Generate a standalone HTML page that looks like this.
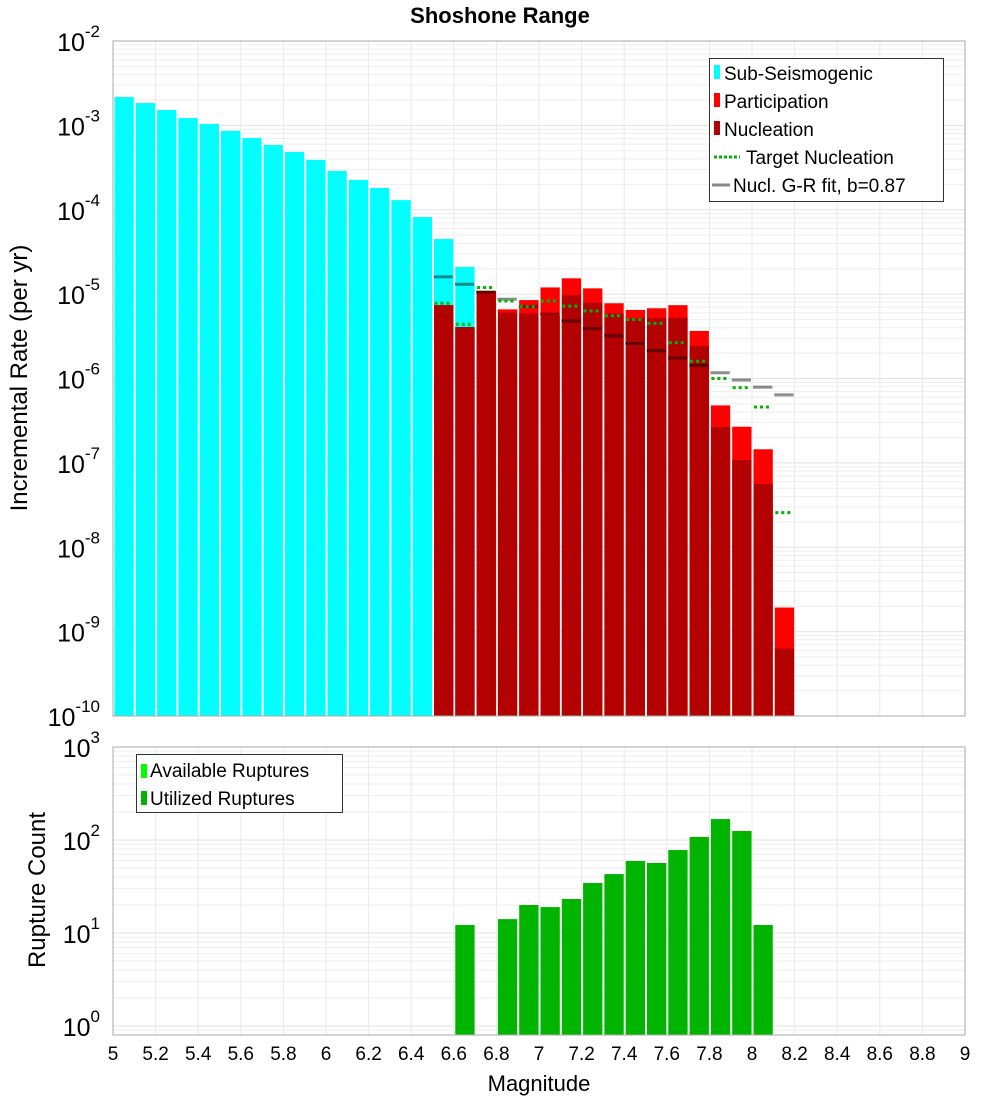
<!DOCTYPE html>
<html><head><meta charset="utf-8"><style>
body{margin:0;background:#fff;}
svg text{font-family:"Liberation Sans","DejaVu Sans",sans-serif;}
</style></head><body>
<svg id="chart" width="1000" height="1100" xmlns="http://www.w3.org/2000/svg">
<text x="500" y="23" text-anchor="middle" font-size="22" font-weight="bold">Shoshone Range</text>
<g id="topPlot"></g>
<g id="botPlot"></g>
</svg>
<script>
const magBins=[5.0,5.1,5.2,5.3,5.4,5.5,5.6,5.7,5.8,5.9,6.0,6.1,6.2,6.3,6.4,6.5,6.6];
const subSeis=[2.17e-3,1.84e-3,1.52e-3,1.22e-3,1.04e-3,8.6e-4,7.1e-4,5.85e-4,4.83e-4,3.9e-4,2.88e-4,2.25e-4,1.81e-4,1.3e-4,8.2e-5,4.5e-5,2.1e-5];
const supraBins=[6.5,6.6,6.7,6.8,6.9,7.0,7.1,7.2,7.3,7.4,7.5,7.6,7.7,7.8,7.9,8.0,8.1];
const participation=[7.4e-6,4.07e-6,1.09e-5,6.6e-6,8.5e-6,1.2e-5,1.54e-5,1.17e-5,7.8e-6,6.5e-6,6.8e-6,7.4e-6,3.66e-6,4.8e-7,2.68e-7,1.45e-7,1.93e-9];
const nucleation=[7.4e-6,4.07e-6,1.09e-5,6.03e-6,5.93e-6,5.5e-6,9.7e-6,7.9e-6,5.9e-6,5.2e-6,5.2e-6,5.25e-6,2.43e-6,2.66e-7,1.08e-7,5.6e-8,6.3e-10];
const targetNucl=[7.8e-6,4.4e-6,1.2e-5,8.3e-6,7.1e-6,8.3e-6,7.2e-6,6.3e-6,5.55e-6,5.0e-6,4.5e-6,2.65e-6,1.6e-6,1.0e-6,7.8e-7,4.6e-7,2.57e-8];
const grFit=[1.6e-5,1.31e-5,1.06e-5,8.7e-6,7.1e-6,5.8e-6,4.8e-6,3.9e-6,3.2e-6,2.6e-6,2.14e-6,1.75e-6,1.43e-6,1.17e-6,9.6e-7,7.9e-7,6.4e-7];
const countBins=[6.6,6.8,6.9,7.0,7.1,7.2,7.3,7.4,7.5,7.6,7.7,7.8,7.9,8.0];
const utilized=[12.2,14.1,20,19,23.2,34.5,43,59.5,56.6,78,108,168,125,12.2];
const xTicks=[5,5.2,5.4,5.6,5.8,6,6.2,6.4,6.6,6.8,7,7.2,7.4,7.6,7.8,8,8.2,8.4,8.6,8.8,9];
const topExps=[-2,-3,-4,-5,-6,-7,-8,-9,-10];
const botExps=[0,1,2,3];

const NS="http://www.w3.org/2000/svg";
const X0=113,X1=965,T0=41,T1=716,B0=747,B1=1035;
const xs=m=>X0+(m-5)*213;
const yT=v=>T0+(-2-Math.log10(v))*84.375;
const yB=v=>1026-93*Math.log10(v);
function mk(parent,tag,attrs){const e=document.createElementNS(NS,tag);for(const k in attrs)e.setAttribute(k,attrs[k]);parent.appendChild(e);return e;}
const gTop=document.getElementById('topPlot'),gBot=document.getElementById('botPlot');

function frame(g,y0,y1,yf,exps,name){
  mk(g,'rect',{x:X0,y:y0,width:X1-X0,height:y1-y0,fill:'#fff',stroke:'none'});
  for(let e=Math.min(...exps)-1;e<=Math.max(...exps);e++){
    for(let k=1;k<10;k++){const v=k*Math.pow(10,e);const y=yf(v);if(y<y0||y>y1)continue;
      const l=mk(g,'line',{x1:X0,x2:X1,y1:y,y2:y,stroke:k==1?'#e2e2e2':'#eeeeee','stroke-width':1});
      
      }
  }
  xTicks.forEach(t=>{const x=xs(t);const l=mk(g,'line',{x1:x,x2:x,y1:y0,y2:y1,stroke:'#eaeaea','stroke-width':1});
    
    });
}
function border(g,y0,y1){mk(g,'rect',{x:X0,y:y0,width:X1-X0,height:y1-y0,fill:'none',stroke:'#aaa','stroke-width':1});}
function yLabels(g,exps,yf,name){
  exps.forEach(e=>{const y=yf(Math.pow(10,e));
    const t=mk(g,'text',{x:100,y:y+10,'text-anchor':'end','font-size':25});
    
    
    const a=document.createElementNS(NS,'tspan');a.textContent='10';t.appendChild(a);
    const b=document.createElementNS(NS,'tspan');b.setAttribute('dy','-14');b.setAttribute('font-size','17');b.textContent=String(e);t.appendChild(b);
  });
}

frame(gTop,T0,T1,yT,topExps,'top');
magBins.forEach((m,i)=>{const y=yT(subSeis[i]);const r=mk(gTop,'rect',{x:xs(m)+1.5,y:y,width:213*0.1-2,height:T1-y,fill:'#00ffff'});
  
  });
supraBins.forEach((m,i)=>{const y=yT(participation[i]);const r=mk(gTop,'rect',{x:xs(m)+1.5,y:y,width:213*0.1-2,height:T1-y,fill:'#ff0000'});
  
  });
supraBins.forEach((m,i)=>{const y=yT(nucleation[i]);const r=mk(gTop,'rect',{x:xs(m)+1.5,y:y,width:213*0.1-2,height:T1-y,fill:'#b30000'});
  
  });
supraBins.forEach((m,i)=>{const y=yT(grFit[i]);const l=mk(gTop,'line',{x1:xs(m)+1,x2:xs(m+0.1)-1,y1:y,y2:y,stroke:'rgba(0,0,0,0.45)','stroke-width':3});
  
  });
supraBins.forEach((m,i)=>{const y=yT(targetNucl[i]);const l=mk(gTop,'line',{x1:xs(m)+2,x2:xs(m+0.1)-2,y1:y,y2:y,stroke:'#00b400','stroke-width':3,'stroke-dasharray':'3,3'});
  
  });
border(gTop,T0,T1);
yLabels(gTop,topExps,yT,'top-y');

frame(gBot,B0,B1,yB,botExps,'bottom');
countBins.forEach((m,i)=>{const y=yB(utilized[i]);const r=mk(gBot,'rect',{x:xs(m)+1.5,y:y,width:213*0.1-2,height:B1-y,fill:'#00b400'});
  
  });
border(gBot,B0,B1);
yLabels(gBot,botExps,yB,'bottom-y');
xTicks.forEach(t=>{const tx=mk(gBot,'text',{x:xs(t),y:1060,'text-anchor':'middle','font-size':19});tx.textContent=String(t);
  
  });
</script>
<svg style="position:absolute;left:0;top:0" width="1000" height="1100" xmlns="http://www.w3.org/2000/svg">
<text transform="translate(27,378) rotate(-90)" text-anchor="middle" font-size="24" font-family="Liberation Sans, sans-serif">Incremental Rate (per yr)</text>
<text transform="translate(45,890) rotate(-90)" text-anchor="middle" font-size="24" font-family="Liberation Sans, sans-serif">Rupture Count</text>
<text x="539" y="1091" text-anchor="middle" font-size="22" font-family="Liberation Sans, sans-serif">Magnitude</text>
<g font-family="Liberation Sans, sans-serif" font-size="19">
<rect x="709.5" y="58.5" width="234" height="143" fill="#fff" stroke="#333"/>
<rect x="714" y="65" width="6" height="14" fill="#00ffff"/><text x="724" y="80">Sub-Seismogenic</text>
<rect x="714" y="93" width="6" height="14" fill="#ff0000"/><text x="724" y="108">Participation</text>
<rect x="714" y="121" width="6" height="14" fill="#b30000"/><text x="724" y="136">Nucleation</text>
<line x1="714" x2="740" y1="157" y2="157" stroke="#00b400" stroke-width="3" stroke-dasharray="3,2"/><text x="746" y="164">Target Nucleation</text>
<line x1="712" x2="730" y1="185" y2="185" stroke="#888" stroke-width="3"/><text x="733" y="192">Nucl. G-R fit, b=0.87</text>
</g>
<g font-family="Liberation Sans, sans-serif" font-size="19">
<rect x="136.5" y="754.5" width="206" height="58" fill="#fff" stroke="#333"/>
<rect x="141" y="764" width="6" height="14" fill="#00ff00"/><text x="150" y="777">Available Ruptures</text>
<rect x="141" y="791" width="6" height="14" fill="#00b400"/><text x="150" y="805">Utilized Ruptures</text>
</g>
</svg>
</body></html>
